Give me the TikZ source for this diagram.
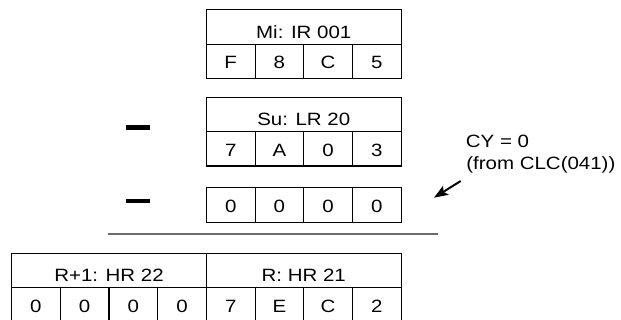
\documentclass[tikz,border=0pt]{standalone}
\usepackage{fontspec}
\setmainfont{Liberation Sans}[FakeStretch=1.15]
\usetikzlibrary{arrows.meta}
\tikzset{
  boxline/.style={draw, line width=1.15pt},
  hdr/.style={boxline, anchor=north west, inner sep=0pt, minimum height=34.4pt, text height=22.9pt, text depth=0pt, font=\fontsize{17.8}{20}\selectfont},
  cell/.style={boxline, anchor=north west, inner sep=0pt, minimum width=48.7pt, minimum height=34.4pt, text height=14.6pt, text depth=0pt, font=\fontsize{17.8}{20}\selectfont},
  minussign/.style={line width=4.4pt},
  sumrule/.style={line width=2pt, draw=black!58},
  note/.style={anchor=base west, inner sep=0pt, font=\fontsize{17.8}{20}\selectfont},
  pointer/.style={line width=2pt, -{Stealth[length=14pt, width=10.5pt, inset=3pt]}}
}
\begin{document}
\begin{tikzpicture}[x=1pt,y=1pt]
\useasboundingbox (0,0) rectangle (621,320);
% Minuend
\node[hdr, minimum width=194.8pt] (mih) at (205.8,310.7) {Mi: IR 001};
\node[cell] (mi1) at (205.8,276.3) {F};
\node[cell] (mi2) at (254.5,276.3) {8};
\node[cell] (mi3) at (303.2,276.3) {C};
\node[cell] (mi4) at (351.9,276.3) {5};
% Subtrahend
\node[hdr, minimum width=194.8pt] (suh) at (205.8,223.3) {Su: LR 20};
\node[cell] (su1) at (205.8,188.9) {7};
\node[cell] (su2) at (254.5,188.9) {A};
\node[cell] (su3) at (303.2,188.9) {0};
\node[cell] (su4) at (351.9,188.9) {3};
% Carry
\node[cell, minimum height=35pt] (cy1) at (205.8,132.7) {0};
\node[cell, minimum height=35pt] (cy2) at (254.5,132.7) {0};
\node[cell, minimum height=35pt] (cy3) at (303.2,132.7) {0};
\node[cell, minimum height=35pt] (cy4) at (351.9,132.7) {0};
% minus signs
\coordinate (m1a) at (126,192.3); \coordinate (m1b) at (150,192.3);
\coordinate (m2a) at (126,119); \coordinate (m2b) at (150,119);
\draw[minussign] (m1a) -- (m1b);
\draw[minussign] (m2a) -- (m2b);
% rule
\coordinate (rulea) at (107.5,85.6); \coordinate (ruleb) at (437.5,85.6);
\draw[sumrule] (rulea) -- (ruleb);
% Result
\node[hdr, minimum width=194.8pt] (rh1) at (11,67.3) {R+1: HR 22};
\node[hdr, minimum width=194.8pt] (rh0) at (205.8,67.3) {R: HR 21};
\node[cell, minimum height=35pt] (r1) at (11,32.9) {0};
\node[cell, minimum height=35pt] (r2) at (59.7,32.9) {0};
\node[cell, minimum height=35pt] (r3) at (108.4,32.9) {0};
\node[cell, minimum height=35pt] (r4) at (157.1,32.9) {0};
\node[cell, minimum height=35pt] (r5) at (205.8,32.9) {7};
\node[cell, minimum height=35pt] (r6) at (254.5,32.9) {E};
\node[cell, minimum height=35pt] (r7) at (303.2,32.9) {C};
\node[cell, minimum height=35pt] (r8) at (351.9,32.9) {2};
% note and arrow
\node[note] (cyt) at (465.7,172.7) {CY = 0};
\node[note] (cyf) at (466.2,150) {(from CLC(041))};
\coordinate (arrtail) at (460.7,139);
\coordinate (arrtip) at (434,122.3);
\draw[pointer] (arrtail) -- (arrtip);
\end{tikzpicture}
\end{document}
